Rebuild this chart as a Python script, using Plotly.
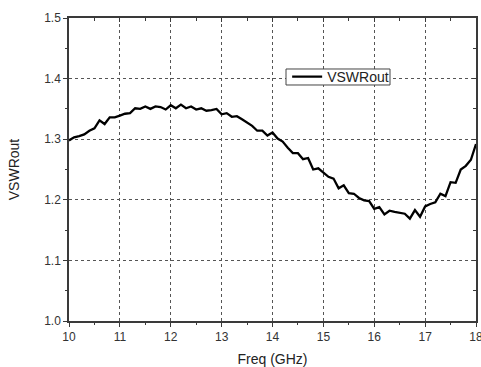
import plotly.graph_objects as go

freq = [10.0, 10.1, 10.2, 10.3, 10.4, 10.5, 10.6, 10.7, 10.8, 10.9,
        11.0, 11.1, 11.2, 11.3, 11.4, 11.5, 11.6, 11.7, 11.8, 11.9,
        12.0, 12.1, 12.2, 12.3, 12.4, 12.5, 12.6, 12.7, 12.8, 12.9,
        13.0, 13.1, 13.2, 13.3, 13.4, 13.5, 13.6, 13.7, 13.8, 13.9,
        14.0, 14.1, 14.2, 14.3, 14.4, 14.5, 14.6, 14.7, 14.8, 14.9,
        15.0, 15.1, 15.2, 15.3, 15.4, 15.5, 15.6, 15.7, 15.8, 15.9,
        16.0, 16.1, 16.2, 16.3, 16.4, 16.5, 16.6, 16.7, 16.8, 16.9,
        17.0, 17.1, 17.2, 17.3, 17.4, 17.5, 17.6, 17.7, 17.8, 17.9, 18.0]
vswr_out = [1.298, 1.303, 1.305, 1.308, 1.314, 1.318, 1.331, 1.325, 1.336, 1.336,
            1.339, 1.342, 1.343, 1.351, 1.350, 1.354, 1.350, 1.354, 1.353, 1.349,
            1.356, 1.351, 1.357, 1.351, 1.354, 1.349, 1.351, 1.347, 1.348, 1.350,
            1.341, 1.343, 1.337, 1.338, 1.333, 1.328, 1.322, 1.314, 1.314, 1.306,
            1.311, 1.301, 1.296, 1.286, 1.277, 1.277, 1.267, 1.269, 1.250, 1.252,
            1.245, 1.238, 1.235, 1.219, 1.224, 1.211, 1.210, 1.203, 1.199, 1.198,
            1.185, 1.188, 1.176, 1.182, 1.180, 1.178, 1.177, 1.169, 1.183, 1.172,
            1.189, 1.193, 1.196, 1.210, 1.206, 1.229, 1.228, 1.250, 1.256, 1.266, 1.292]

x_ticks = [10, 11, 12, 13, 14, 15, 16, 17, 18]
y_ticks = [1.0, 1.1, 1.2, 1.3, 1.4, 1.5]
y_ticklabels = ["1.0", "1.1", "1.2", "1.3", "1.4", "1.5"]

FONT = "Arial, Liberation Sans, sans-serif"
AX = "#3a3a3a"

fig = go.Figure()
fig.add_trace(go.Scatter(x=freq, y=vswr_out, mode="lines", name="VSWRout",
                         line=dict(color="black", width=2.3)))
# invisible trace to activate mirrored inner-tick axes
fig.add_trace(go.Scatter(x=freq, y=vswr_out, mode="lines", xaxis="x2", yaxis="y2",
                         line=dict(width=0), showlegend=False, hoverinfo="skip"))

fig.update_layout(
    width=481, height=367,
    margin=dict(l=69, r=5, t=18, b=46),
    paper_bgcolor="white", plot_bgcolor="white",
    font=dict(family=FONT, color="#333333"),
    showlegend=True,
    legend=dict(x=0.536, y=0.805, xanchor="left", yanchor="middle", valign="middle",
                bgcolor="rgba(0,0,0,0)", borderwidth=0,
                font=dict(size=14, color="#222222"),
                itemwidth=30, tracegroupgap=0),
    # legend frame
    shapes=[dict(type="rect", xref="paper", yref="paper",
                 x0=0.5332, x1=0.7887, y0=0.7789, y1=0.8317,
                 line=dict(color="#444444", width=1), fillcolor="white", layer="above")],
    xaxis=dict(range=[10, 18], tickvals=x_ticks, ticktext=[str(v) for v in x_ticks],
               showline=True, linecolor=AX, linewidth=1.5,
               ticks="outside", ticklen=4, tickcolor=AX, tickwidth=1,
               minor=dict(dtick=0.5, ticks="outside", ticklen=2, tickcolor=AX, showgrid=False),
               showgrid=True, gridcolor="#555555", griddash="dot", gridwidth=1,
               zeroline=False, tickfont=dict(size=12, color="#333333"),
               ticklabeloverflow="allow",
               title=dict(text="Freq (GHz)", font=dict(size=14, color="#222222"), standoff=11),
               automargin=False),
    yaxis=dict(range=[1.0, 1.5], tickvals=y_ticks, ticktext=y_ticklabels,
               showline=True, linecolor=AX, linewidth=1.5,
               ticks="outside", ticklen=4, tickcolor=AX, tickwidth=1,
               minor=dict(dtick=0.05, ticks="outside", ticklen=2, tickcolor=AX, showgrid=False),
               showgrid=True, gridcolor="#555555", griddash="dot", gridwidth=1,
               zeroline=False, tickfont=dict(size=12, color="#333333"),
               title=dict(text="VSWRout", font=dict(size=14, color="#222222"), standoff=21),
               automargin=False),
    xaxis2=dict(range=[10, 18], overlaying="x", side="top", showline=True, linecolor=AX,
                linewidth=1.5, ticks="inside", ticklen=4, tickcolor=AX, tickvals=x_ticks,
                minor=dict(dtick=0.5, ticks="inside", ticklen=3, tickcolor=AX, showgrid=False),
                showticklabels=False, showgrid=False, zeroline=False),
    yaxis2=dict(range=[1.0, 1.5], overlaying="y", side="right", showline=True, linecolor=AX,
                linewidth=1.5, ticks="inside", ticklen=4, tickcolor=AX, tickvals=y_ticks,
                minor=dict(dtick=0.05, ticks="inside", ticklen=3, tickcolor=AX, showgrid=False),
                showticklabels=False, showgrid=False, zeroline=False),
)

fig.write_html("out.html", config={"displayModeBar": False},
               post_script="document.body.style.margin='0';")
